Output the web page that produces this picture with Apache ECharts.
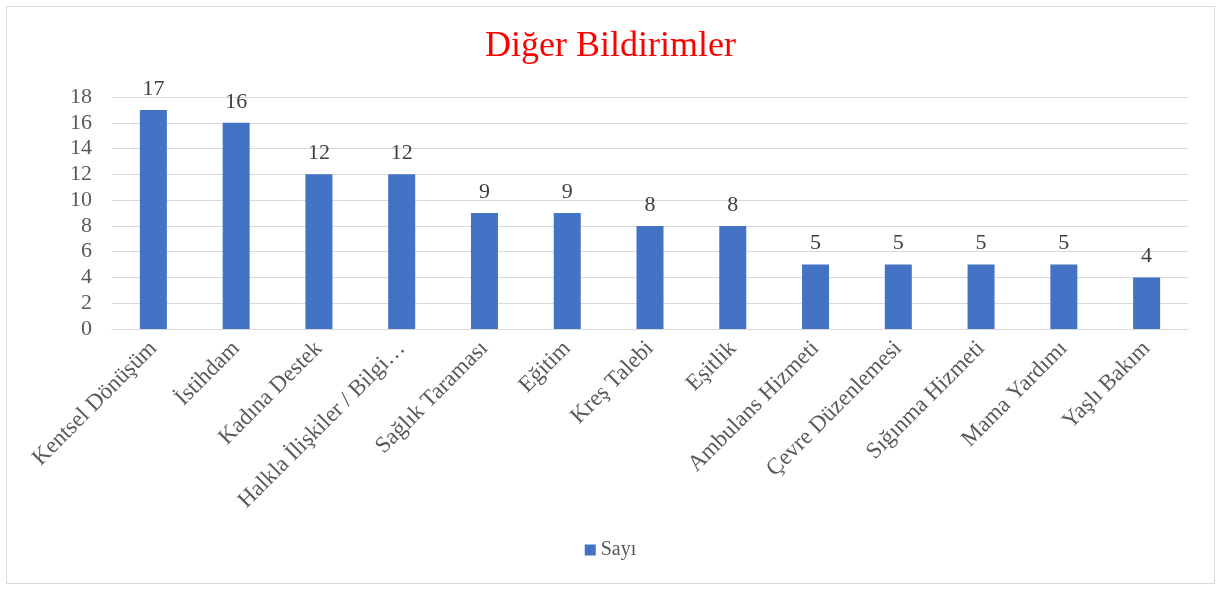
<!DOCTYPE html>
<html>
<head>
<meta charset="utf-8">
<script src="https://cdn.jsdelivr.net/npm/echarts@6/dist/echarts.min.js"></script>
<style>
  html, body { margin: 0; padding: 0; background: #fff; }
  #chart { width: 1221px; height: 590px; }
  .frame {
    position: absolute; left: 6px; top: 6px;
    width: 1207px; height: 576px;
    border: 1px solid #d9d9d9;
    pointer-events: none;
  }
</style>
</head>
<body>
<div id="chart"></div>
<div class="frame"></div>
<script>
var categories = ['Kentsel Dönüşüm', 'İstihdam', 'Kadına Destek', 'Halkla İlişkiler / Bilgi…',
  'Sağlık Taraması', 'Eğitim', 'Kreş Talebi', 'Eşitlik', 'Ambulans Hizmeti',
  'Çevre Düzenlemesi', 'Sığınma Hizmeti', 'Mama Yardımı', 'Yaşlı Bakım']
var counts = [17, 16, 12, 12, 9, 9, 8, 8, 5, 5, 5, 5, 4]
var seriesName = 'Sayı'
var titleText = 'Diğer Bildirimler'

var font = '"Liberation Serif", "Times New Roman", serif'
var chart = echarts.init(document.getElementById('chart'))
chart.setOption({
  animation: false,
  title: {
    text: titleText,
    left: 'center',
    top: 24,
    textStyle: { color: '#ff0000', fontFamily: font, fontSize: 36, fontWeight: 'normal' }
  },
  legend: {
    data: [seriesName],
    bottom: 25,
    left: 'center',
    icon: 'rect',
    itemWidth: 11,
    itemHeight: 11,
    itemGap: 6,
    textStyle: { color: '#595959', fontFamily: font, fontSize: 20 }
  },
  grid: { left: 112, right: 33, top: 97, bottom: 261 },
  xAxis: {
    type: 'category',
    data: categories,
    axisLine: { lineStyle: { color: '#d9d9d9' } },
    axisTick: { show: false },
    axisLabel: {
      rotate: 45,
      interval: 0,
      margin: 16,
      color: '#595959',
      fontFamily: font,
      fontSize: 23
    }
  },
  yAxis: {
    type: 'value',
    min: 0,
    max: 18,
    interval: 2,
    axisLine: { show: false },
    axisTick: { show: false },
    splitLine: { lineStyle: { color: '#d9d9d9' } },
    axisLabel: { color: '#595959', fontFamily: font, fontSize: 22, margin: 20 }
  },
  series: [{
    name: seriesName,
    type: 'bar',
    data: counts,
    barWidth: 27,
    itemStyle: { color: '#4472c4' },
    label: {
      show: true,
      position: 'top',
      distance: 10,
      color: '#404040',
      fontFamily: font,
      fontSize: 22
    }
  }]
})
</script>
</body>
</html>
